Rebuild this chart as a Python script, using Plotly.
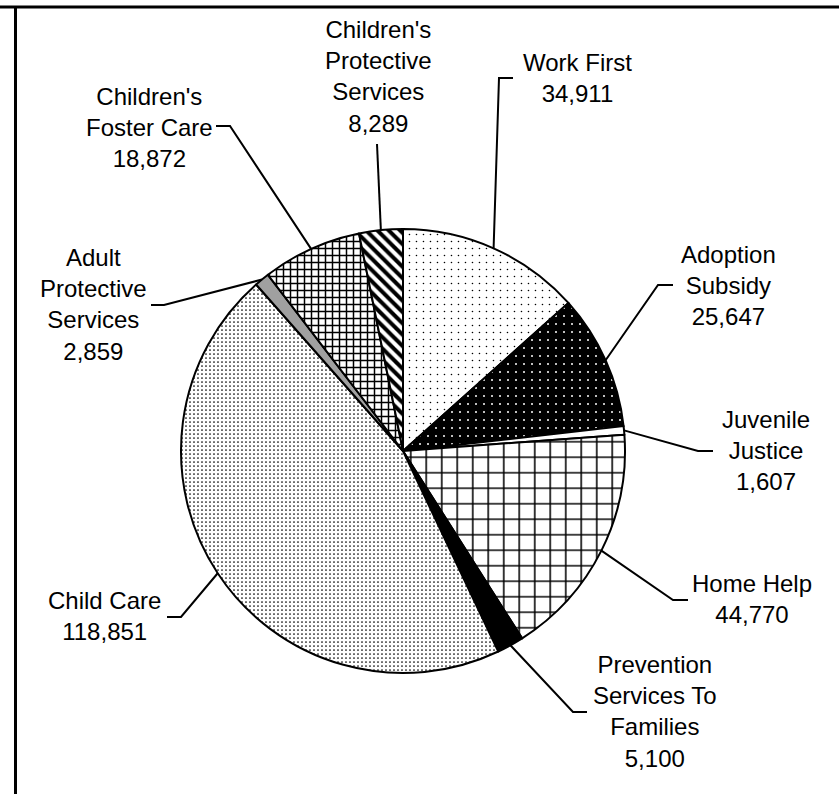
import math
import plotly.graph_objects as go

# ---- data ----
categories = ["Work First", "Adoption Subsidy", "Juvenile Justice", "Home Help",
              "Prevention Services To Families", "Child Care",
              "Adult Protective Services", "Children's Foster Care",
              "Children's Protective Services"]
label_lines = [["Work First"], ["Adoption", "Subsidy"], ["Juvenile", "Justice"],
               ["Home Help"], ["Prevention", "Services To", "Families"],
               ["Child Care"], ["Adult", "Protective", "Services"],
               ["Children's", "Foster Care"], ["Children's", "Protective", "Services"]]
values = [34911, 25647, 1607, 44770, 5100, 118851, 2859, 18872, 8289]

# ---- layout / style ----
W, H = 839, 794
CX, CY, R = 403, 451, 222  # pie centre and radius (px)

bg = ["white", "black", "white", "white", "black", "white", "#a0a0a0", "white", "white"]
fg = ["black", "white", "black", "black", "black", "black", "black", "black", "black"]
shapes_p = [".", ".", "", "+", "", ".", "", "+", "\\"]
psize = [7, 8, 8, 15.5, 8, 4, 8, 7, 8]
psol = [0.04, 0.05, 0.3, 0.19, 0.3, 0.15, 0.3, 0.38, 0.5]

# label text centre (px) and leader elbow / end points (px)
label_pos = [(577, 78), (728, 285), (766, 450), (752, 599), (655, 711),
             (104, 616), (93, 305), (149, 127), (378, 76)]
leader_pts = [[(499, 78), (513, 78)], [(658, 285), (673, 285)],
              [(698, 451), (713, 451)], [(673, 600), (688, 600)],
              [(573, 712), (587, 712)], [(181, 617), (167, 617)],
              [(164, 305), (151, 305)], [(230, 126), (216, 126)],
              [(377, 144)]]

FONT = "Liberation Sans, Arial, sans-serif"


def px(x):
    return x / W


def py(y):
    return 1 - y / H


fig = go.Figure()
fig.add_trace(go.Pie(
    labels=categories, values=values, sort=False, direction="clockwise",
    rotation=0, textinfo="none", hoverinfo="label+value", showlegend=False,
    domain=dict(x=[px(CX - R), px(CX + R)], y=[py(CY + R), py(CY - R)]),
    marker=dict(colors=bg, line=dict(color="black", width=2),
                pattern=dict(shape=shapes_p, fgcolor=fg, bgcolor=bg,
                             size=psize, solidity=psol, fillmode="replace")),
))

total = sum(values)
shapes = []
annotations = []
cum = 0
for i, v in enumerate(values):
    mid = (cum + v / 2) / total * 2 * math.pi
    cum += v
    ex = CX + R * math.sin(mid)
    ey = CY - R * math.cos(mid)
    pts = [(ex, ey)] + leader_pts[i]
    path = "M " + " L ".join(f"{px(a):.5f},{py(b):.5f}" for a, b in pts)
    shapes.append(dict(type="path", xref="paper", yref="paper", path=path,
                       line=dict(color="black", width=2)))
    text = "<br>".join(label_lines[i] + [f"{v:,}"])
    lx, ly = label_pos[i]
    annotations.append(dict(x=px(lx), y=py(ly), xref="paper", yref="paper",
                            text=text, showarrow=False, xanchor="center",
                            yanchor="middle", align="center",
                            font=dict(family=FONT, size=24, color="black")))

# frame lines
shapes.append(dict(type="line", xref="paper", yref="paper", x0=0, x1=1,
                   y0=py(7), y1=py(7), line=dict(color="black", width=3)))
shapes.append(dict(type="line", xref="paper", yref="paper", x0=px(15.5), x1=px(15.5),
                   y0=py(7), y1=0, line=dict(color="black", width=3)))

fig.update_layout(width=W, height=H, margin=dict(l=0, r=0, t=0, b=0),
                  paper_bgcolor="white", plot_bgcolor="white",
                  shapes=shapes, annotations=annotations,
                  font=dict(family=FONT, size=24, color="black"))

fig.write_html("out.html", config={"displayModeBar": False},
               post_script="document.body.style.margin='0px';document.body.style.padding='0px';")
